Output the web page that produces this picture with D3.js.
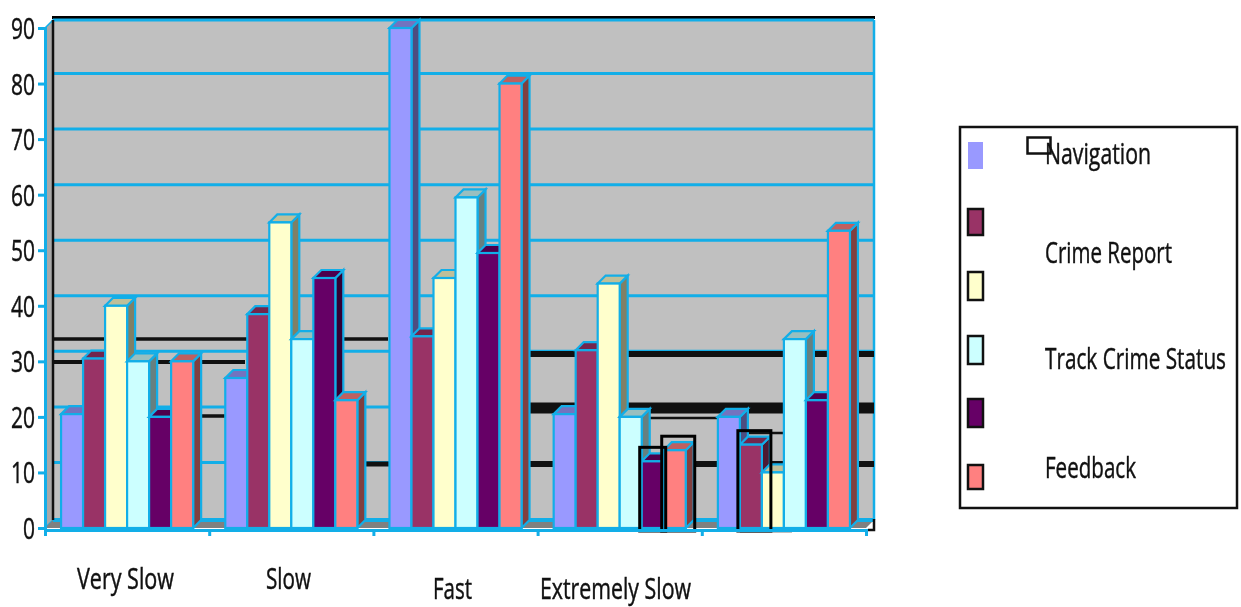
<!DOCTYPE html>
<html>
<head>
<meta charset="utf-8">
<script src="https://cdnjs.cloudflare.com/ajax/libs/d3/7.8.5/d3.min.js"></script>
<style>
  html, body { margin: 0; padding: 0; background: #fff; }
  svg { display: block; filter: blur(0.6px); }
  text { font-family: "Open Sans", sans-serif; fill: #111; stroke: #111; stroke-width: 0.3px; }
</style>
</head>
<body>
<svg id="chart" width="1241" height="607"></svg>
<script>
var categories = ["Very Slow", "Slow", "Fast", "Extremely Slow", ""];
var seriesNames = ["Navigation", "Crime Report", "", "Track Crime Status", "", "Feedback"];
var seriesColors = ["#9999ff", "#993366", "#ffffcc", "#ccffff", "#660066", "#ff8080"];
var navigation = [20.5, 27, 90, 20.5, 20];
var crimeReport = [30.5, 38.5, 34.5, 32, 15];
var unnamedA = [40, 55, 45, 44, 10];
var trackCrimeStatus = [30, 34, 59.5, 20, 34];
var unnamedB = [20, 45, 49.5, 12, 23];
var feedback = [30, 23, 80, 14, 53.5];
var yTicks = [0, 10, 20, 30, 40, 50, 60, 70, 80, 90];

var allSeries = [navigation, crimeReport, unnamedA, trackCrimeStatus, unnamedB, feedback];
var edge = "#12aee8", depth = 8, gridDepth = 10;
var svg = d3.select("#chart");

var y = d3.scaleLinear().domain([0, 90]).range([528, 28]);
var xGroup = d3.scaleBand().domain(d3.range(categories.length)).range([45, 866]);
var xBar = d3.scaleBand().domain(d3.range(allSeries.length))
  .range([0, xGroup.bandwidth()]).paddingOuter(0.73);
var xEdge = d3.scaleLinear().domain([0, categories.length]).range([45, 866]);

function barX(c, s) { return xGroup(c) + xBar(s); }
function shade(col, k) {
  var c = d3.rgb(col);
  return d3.rgb(c.r * k, c.g * k, c.b * k).formatHex();
}
// the source text is squeezed and stretched tall, so scale it instead of using a big font
function stretchedText(parent, x, base, width, str) {
  return parent.append("text")
    .attr("transform", "translate(" + x + "," + base + ") scale(1,1.5)")
    .attr("font-size", 19.5)
    .attr("textLength", width).attr("lengthAdjust", "spacingAndGlyphs")
    .text(str);
}

var wallL = 45 + depth, wallR = 866 + depth, wallT = 28 - depth, wallB = 528 - depth;

// back wall, side wall and floor
svg.append("rect").attr("x", wallL).attr("y", wallT).attr("width", wallR - wallL).attr("height", wallB - wallT)
  .attr("fill", "#c0c0c0");
svg.append("path").attr("d", d3.line()([[45, 28], [wallL, wallT], [wallL, wallB], [45, 528]]))
  .attr("fill", "#a8a8a8").attr("stroke", edge).attr("stroke-width", 1.5);
svg.append("path").attr("d", d3.line()([[45, 528], [wallL, wallB], [wallR, wallB], [866, 528]]))
  .attr("fill", "#808080");

// gridlines on the wall
svg.append("g").selectAll("line").data(yTicks.slice(1, -1)).enter().append("line")
  .attr("x1", wallL).attr("x2", wallR)
  .attr("y1", function (d) { return y(d) - gridDepth; }).attr("y2", function (d) { return y(d) - gridDepth; })
  .attr("stroke", edge).attr("stroke-width", 3);
svg.append("line").attr("x1", wallL).attr("x2", wallR).attr("y1", wallB).attr("y2", wallB)
  .attr("stroke", edge).attr("stroke-width", 4);
svg.append("line").attr("x1", wallR).attr("x2", wallR).attr("y1", wallT).attr("y2", wallB)
  .attr("stroke", edge).attr("stroke-width", 2.5);

// stray black rules left on the wall in the source image
var rules = svg.append("g").attr("stroke", "#111");
[[54, 388, 339, 3.5], [54, 245, 362, 4], [198, 225, 416, 3.5], [365, 389, 464, 5], [528, 874, 354, 6],
 [528, 874, 408, 11], [528, 874, 464, 6], [650, 717, 418, 2.5], [737, 800, 433, 2.5]].forEach(function (r) {
  rules.append("line").attr("x1", r[0]).attr("x2", r[1]).attr("y1", r[2]).attr("y2", r[2]).attr("stroke-width", r[3]);
});

svg.append("line").attr("x1", wallL - 1).attr("x2", wallR + 1).attr("y1", 17.5).attr("y2", 17.5)
  .attr("stroke", "#000").attr("stroke-width", 3);
svg.append("line").attr("x1", wallL).attr("x2", wallR).attr("y1", wallT).attr("y2", wallT)
  .attr("stroke", edge).attr("stroke-width", 3);
svg.append("line").attr("x1", wallL).attr("x2", wallL).attr("y1", wallT).attr("y2", wallB)
  .attr("stroke", "#111").attr("stroke-width", 2.5);

// bars, left to right so each one covers the side of the bar before it
categories.forEach(function (cat, c) {
  var g = svg.append("g");
  allSeries.forEach(function (vals, s) {
    var x0 = barX(c, s), w = xBar.bandwidth(), top = y(vals[c]), col = seriesColors[s];
    g.append("path")
      .attr("d", d3.line()([[x0 + w, top], [x0 + w + depth, top - depth], [x0 + w + depth, 528 - depth], [x0 + w, 528]]) + "Z")
      .attr("fill", shade(col, 0.5)).attr("stroke", edge).attr("stroke-width", 2.2);
    g.append("path")
      .attr("d", d3.line()([[x0, top], [x0 + depth, top - depth], [x0 + w + depth, top - depth], [x0 + w, top]]) + "Z")
      .attr("fill", shade(col, 0.75)).attr("stroke", edge).attr("stroke-width", 2.2);
    g.append("rect").attr("x", x0).attr("y", top).attr("width", w).attr("height", 528 - top)
      .attr("fill", col).attr("stroke", edge).attr("stroke-width", 2.2);
  });
});

// black selection boxes drawn over some of the bars: [group, series, box width]
var boxes = svg.append("g").attr("fill", "none").attr("stroke", "#000").attr("stroke-width", 3);
[[3, 4, 26], [3, 5, 33], [4, 1, 33]].forEach(function (b) {
  var x0 = barX(b[0], b[1]) - 2, top = y(allSeries[b[1]][b[0]]) - 14;
  boxes.append("rect").attr("x", x0).attr("y", top).attr("width", b[2]).attr("height", 531 - top);
});
svg.append("line").attr("x1", barX(4, 1)).attr("x2", 792).attr("y1", 531).attr("y2", 531).attr("stroke", "#000").attr("stroke-width", 2.5);
svg.append("path").attr("d", "M" + wallR + "," + (wallB - 1) + "V530H868").attr("fill", "none").attr("stroke", "#111").attr("stroke-width", 2.5);

// axes
var yAxis = svg.append("g").attr("transform", "translate(45,0)")
  .call(d3.axisLeft(y).tickValues(yTicks).tickSize(7).tickFormat(""));
var xAxis = svg.append("g").attr("transform", "translate(0,530)")
  .call(d3.axisBottom(xEdge).ticks(categories.length).tickSize(6).tickFormat(""));
[yAxis, xAxis].forEach(function (a) {
  a.selectAll("path").attr("stroke", edge).attr("stroke-width", 3);
  a.selectAll("line").attr("stroke", edge).attr("stroke-width", 3);
});

// y tick labels
var yLabels = svg.append("g");
yTicks.forEach(function (d) {
  var w = d === 0 ? 12 : 24;
  stretchedText(yLabels, 35 - w, y(d) + 11, w, d);
});

// category labels sit at uneven heights in the source
var catX = [77, 266, 433, 540], catW = [97, 45, 39, 151], catBase = [589, 589, 599, 599];
categories.slice(0, 4).forEach(function (cat, i) {
  stretchedText(svg, catX[i], catBase[i], catW[i], cat);
});

// legend
svg.append("rect").attr("x", 960).attr("y", 127).attr("width", 277).attr("height", 381)
  .attr("fill", "#fff").attr("stroke", "#111").attr("stroke-width", 2.5);
svg.append("rect").attr("x", 1027.5).attr("y", 137.5).attr("width", 23).attr("height", 16)
  .attr("fill", "#fff").attr("stroke", "#111").attr("stroke-width", 2.5);
var swatchY = [142, 209, 272, 336, 399, 465], swatchH = [27, 26, 28, 28, 28, 24];
seriesColors.forEach(function (col, i) {
  svg.append("rect").attr("x", 968).attr("y", swatchY[i]).attr("width", 15).attr("height", swatchH[i])
    .attr("fill", col).attr("stroke", i === 0 ? "none" : "#111").attr("stroke-width", 2.5);
});
var labelBase = [164, 263, 0, 369, 0, 478], labelW = [106, 127, 0, 181, 0, 91];
seriesNames.forEach(function (name, i) {
  if (!name) return;
  stretchedText(svg, 1045, labelBase[i], labelW[i], name);
});
</script>
</body>
</html>
